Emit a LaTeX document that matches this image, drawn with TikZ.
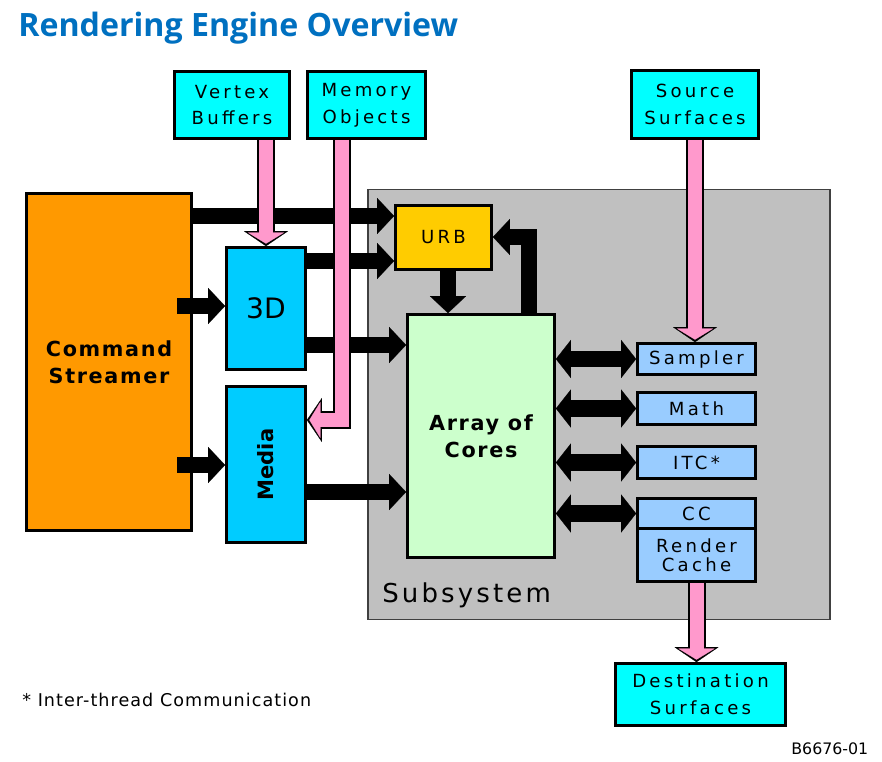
\documentclass[tikz,border=0pt]{standalone}
\usepackage{fontspec}
\setmainfont{DejaVu Sans}
\newfontfamily\pixfont{DejaVu Sans}[LetterSpace=18]
\newfontfamily\pixwidefont{DejaVu Sans}[LetterSpace=8]
\newfontfamily\sublabelfont{DejaVu Sans}[LetterSpace=12]
\newfontfamily\notefont{DejaVu Sans}[LetterSpace=6]
\newfontfamily\headfont{Open Sans}
\usetikzlibrary{arrows.meta}

\definecolor{headblue}{HTML}{0070C0}
\definecolor{streamorange}{HTML}{FF9900}
\definecolor{surfcyan}{HTML}{00FFFF}
\definecolor{pipeblue}{HTML}{00CCFF}
\definecolor{urbyellow}{HTML}{FFCC00}
\definecolor{coregreen}{HTML}{CCFFCC}
\definecolor{unitblue}{HTML}{99CCFF}
\definecolor{subgrey}{HTML}{C0C0C0}
\definecolor{flowpink}{HTML}{FF99CC}

\newcommand\pinkflow[1]{\draw[pinkrim] #1; \draw[pinkcore] #1;}

\begin{document}
\begin{tikzpicture}[x=0.02cm,y=-0.02cm,
	blk/.style={draw,line width=0.055cm,inner sep=0pt,align=center},
	surf/.style={blk,fill=surfcyan,font=\pixfont\fontsize{10.3}{15.2}\selectfont},
	pipe/.style={blk,fill=pipeblue,minimum width=1.58cm},
	unit/.style={blk,fill=unitblue,minimum width=2.36cm,font=\pixfont\fontsize{10.3}{12}\selectfont},
	fat/.style={line width=0.33cm,line join=miter,-{Triangle[width=0.72cm,length=0.34cm,line width=0.1pt]}},
	dbl/.style={line width=0.33cm,{Triangle[width=0.76cm,length=0.30cm,line width=0.1pt]}-{Triangle[width=0.76cm,length=0.30cm,line width=0.1pt]}},
	pinkrim/.style={draw=black,line width=0.36cm,line join=miter,-{Triangle[width=0.88cm,length=0.30cm,line width=0.1pt]}},
	pinkcore/.style={draw=flowpink,line width=0.28cm,line join=miter,shorten >=0.05cm,-{Triangle[width=0.72cm,length=0.22cm,line width=0.1pt]}}]
	\useasboundingbox (0,0) rectangle (882,761);

	\node[anchor=base west,inner sep=0pt,text=headblue,font=\headfont\bfseries\fontsize{18.3}{22}\selectfont] (title) at (18,36) {Rendering Engine Overview};

	\node[draw=black!75,line width=0.03cm,fill=subgrey,minimum width=9.24cm,minimum height=8.6cm] (sub) at (599,404.5) {};
	\node[anchor=base west,inner sep=0pt,font=\sublabelfont\fontsize{14.8}{18}\selectfont] (sublbl) at (382,602) {Subsystem};

	\node[surf,minimum width=2.30cm,minimum height=1.34cm] (vb) at (232,105) {Vertex\\Buffers};
	\node[surf,minimum width=2.36cm,minimum height=1.34cm] (mo) at (366.5,105) {Memory\\Objects};
	\node[surf,minimum width=2.54cm,minimum height=1.36cm] (ss) at (695,104.5) {Source\\Surfaces};
	\node[surf,minimum width=3.40cm,minimum height=1.24cm] (dest) at (700.5,694.5) {Destination\\Surfaces};

	\node[blk,fill=streamorange,minimum width=3.30cm,minimum height=6.74cm,font=\pixwidefont\bfseries\fontsize{11.8}{15.4}\selectfont] (cs) at (109,362) {Command\\Streamer};
	\node[pipe,minimum height=2.44cm,font=\fontsize{16}{18}\selectfont] (td) at (266,308.5) {3D};
	\node[pipe,minimum height=3.12cm,font=\bfseries\fontsize{12}{14}\selectfont] (med) at (266,464.5) {\rotatebox{90}{Media}};

	\node[blk,fill=urbyellow,minimum width=1.92cm,minimum height=1.28cm,font=\pixfont\fontsize{10.3}{12}\selectfont] (urb) at (443.5,237.5) {URB};
	\node[blk,fill=coregreen,minimum width=2.94cm,minimum height=4.86cm,font=\pixwidefont\bfseries\fontsize{11.8}{15.4}\selectfont] (arr) at (481,436) {Array of\\Cores};

	\node[unit,minimum height=0.62cm] (samp) at (696.5,359) {Sampler};
	\node[unit,minimum height=0.64cm] (math) at (696.5,408.5) {Math};
	\node[unit,minimum height=0.64cm] (itc) at (696.5,462.5) {ITC*};
	\node[unit,minimum height=0.60cm] (cc) at (696.5,513.5) {CC};
	\node[unit,minimum height=1.06cm,font=\pixfont\fontsize{10.3}{10.8}\selectfont] (rc) at (696.5,555) {Render\\Cache};

	\node[anchor=base west,inner sep=0pt,font=\notefont\fontsize{10}{12}\selectfont] (note) at (22,706) {* Inter-thread Communication};
	\node[anchor=base west,inner sep=0pt,font=\fontsize{9}{11}\selectfont] (code) at (791,754) {B6676-01};

	\coordinate (r1) at (0,216);
	\coordinate (r2) at (0,261);
	\coordinate (r3) at (0,345);
	\coordinate (r4) at (0,492);
	\coordinate (in3d) at (177,306);
	\coordinate (inmed) at (177,465);
	\coordinate (dn) at (448,0);
	\coordinate (fb) at (529,237);
	\coordinate (mobend) at (342,420);

	\draw[fat] (cs.east |- r1) -- (urb.west |- r1);
	\draw[fat] (td.east |- r2) -- (urb.west |- r2);
	\draw[fat] (td.east |- r3) -- (arr.west |- r3);
	\draw[fat] (med.east |- r4) -- (arr.west |- r4);
	\foreach \p/\q in {in3d/td,inmed/med}
		\draw[fat] (\p) -- (\p -| \q.west);
	\draw[fat] (dn |- urb.south) -- (dn |- arr.north);
	\draw[fat] (fb |- arr.north) -- (fb) -- (fb -| urb.east);
	\foreach \b in {samp,math,itc,cc}
		\draw[dbl] (arr.east |- \b.west) -- (\b.west);

	\pinkflow{(td.north |- vb.south) -- (td.north)}
	\pinkflow{(mobend |- mo.south) -- (mobend) -- (mobend -| med.east)}
	\pinkflow{(ss.south) -- (ss.south |- samp.north)}
	\pinkflow{(rc.south) -- (rc.south |- dest.north)}
\end{tikzpicture}
\end{document}
